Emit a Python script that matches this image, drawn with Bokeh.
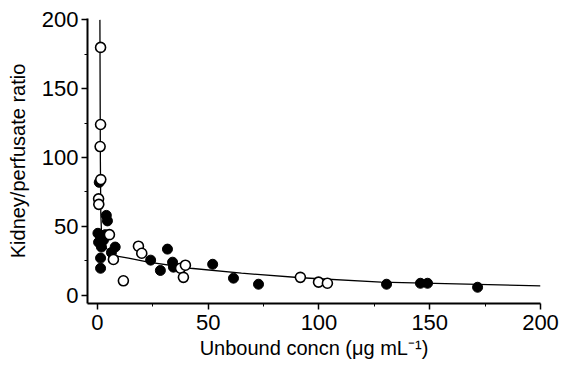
from bokeh.plotting import figure
from bokeh.models import Range1d, FixedTicker
from bokeh.embed import file_html
from bokeh.resources import INLINE

# Open circles
open_x = [1.4, 1.4, 1.2, 1.5, 0.5, 0.6, 5.4, 7.2, 11.7, 18.5, 20.0, 37.5, 39.7, 38.8, 91.6, 99.8, 103.8]
open_y = [180, 124, 108, 84, 70, 66, 44, 26, 10.5, 35.6, 30.5, 19.6, 21.8, 13, 13, 9.5, 8.7]

# Filled circles
fill_x = [0.8, 4.0, 4.5, 1.4, 0.5, 2.7, 1.8, 8.0, 6.3, 1.4, 1.4, 0.2, 3.5,
          24.0, 28.4, 31.6, 33.9, 34.3, 52.0, 61.4, 72.7, 130.5, 145.8, 149.0, 171.6]
fill_y = [82, 58, 54, 43.6, 38.5, 40, 35, 35, 31, 27, 19.6, 45, 44,
          25.5, 18, 33.5, 24, 20.4, 22.5, 12.4, 8, 8, 8.7, 8.7, 5.8]

# Fitted curve
curve_x = [1.1, 1.2, 1.3, 1.5, 1.9, 3.0, 6.8, 14, 23, 42, 65, 92, 128, 200]
curve_y = [200, 150, 100, 60, 42, 36, 29, 27, 24, 19.6, 16, 12.7, 9.5, 6.8]

x_ticks = [0, 50, 100, 150, 200]
y_ticks = [0, 50, 100, 150, 200]

p = figure(width=561, height=370, output_backend="svg", toolbar_location=None,
           x_range=Range1d(-4.5, 200), y_range=Range1d(-6, 201))
p.min_border_left = 87
p.min_border_right = 21
p.min_border_top = 18
p.min_border_bottom = 67
p.outline_line_color = None
p.background_fill_color = "white"
p.border_fill_color = "white"
p.grid.visible = False

p.line(curve_x, curve_y, line_color="black", line_width=1.3)
p.scatter(fill_x, fill_y, size=10, marker="circle", fill_color="black", line_color="black")
p.scatter(open_x, open_y, size=10, marker="circle", fill_color="white", line_color="black", line_width=1.6)

for ax in (p.xaxis[0], p.yaxis[0]):
    ax.axis_line_color = "black"
    ax.axis_line_width = 2
    ax.major_tick_line_color = "black"
    ax.major_tick_line_width = 1.5
    ax.minor_tick_line_color = "black"
    ax.major_tick_out = 6
    ax.major_tick_in = 0
    ax.minor_tick_out = 3
    ax.minor_tick_in = 0
    ax.major_label_text_font = "Liberation Sans"
    ax.major_label_text_font_size = "22px"
    ax.major_label_text_color = "black"
    ax.axis_label_text_font = "Liberation Sans"
    ax.axis_label_text_font_size = "20px"
    ax.axis_label_text_font_style = "normal"
    ax.axis_label_text_color = "black"

p.xaxis.ticker = FixedTicker(ticks=x_ticks, minor_ticks=[25, 75, 125, 175])
p.yaxis.ticker = FixedTicker(ticks=y_ticks, minor_ticks=[25, 75, 125, 175])
p.xaxis.axis_label = "Unbound concn (\u03bcg mL\u207b\u00b9)"
p.yaxis.axis_label = "Kidney/perfusate ratio"
p.xaxis.major_label_standoff = 5
p.yaxis.major_label_standoff = 3
p.xaxis.axis_label_standoff = 4
p.yaxis.axis_label_standoff = 10

open("out.html", "w").write(file_html(p, INLINE))
